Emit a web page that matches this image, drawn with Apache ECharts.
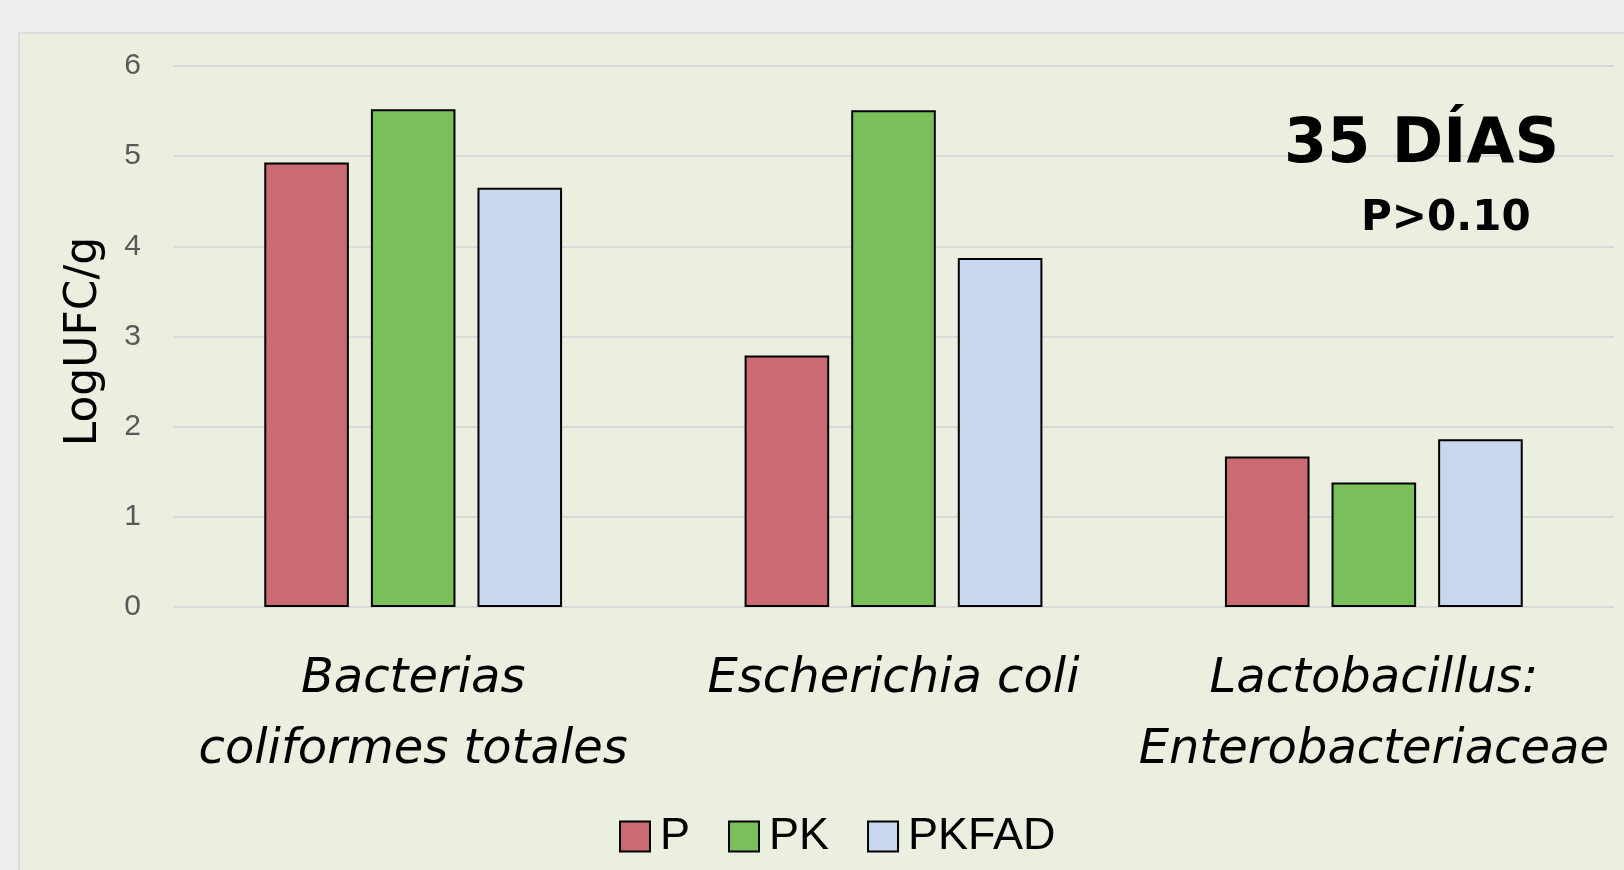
<!DOCTYPE html>
<html>
<head>
<meta charset="utf-8">
<script src="https://cdn.jsdelivr.net/npm/echarts@6/dist/echarts.min.js"></script>
<style>
  html, body { margin: 0; padding: 0; background: #eeeeee; overflow: hidden; }
  #panel { position: absolute; left: 18px; top: 32px; width: 1620px; height: 860px; background: #ebefe0; border: 2px solid #dcdcdc; }
  #chart { position: absolute; left: 0; top: 0; width: 1624px; height: 870px; }
</style>
</head>
<body>
<div id="panel"></div>
<div id="chart"></div>
<script>
const categories = ['Bacterias\ncoliformes totales', 'Escherichia coli', 'Lactobacillus:\nEnterobacteriaceae']
const seriesNames = ['P', 'PK', 'PKFAD']
const valuesP = [4.93, 2.79, 1.67]
const valuesPK = [5.52, 5.51, 1.38]
const valuesPKFAD = [4.65, 3.87, 1.86]
const yTicks = [0, 1, 2, 3, 4, 5, 6]

const colors = ['#c96b70', '#79c05a', '#c6d7ef']
const font = "'DejaVu Sans', sans-serif"
const plainFont = "'Liberation Sans', Arial, sans-serif"

const chart = echarts.init(document.getElementById('chart'))

const makeSeries = (name, data, i) => ({
  name,
  type: 'bar',
  data,
  barGap: '26%',
  barCategoryGap: '38%',
  itemStyle: { color: colors[i], borderColor: '#000', borderWidth: 2 }
})

chart.setOption({
  backgroundColor: 'transparent',
  animation: false,
  title: [
    {
      text: '35 DÍAS',
      left: 1279,
      top: 110,
      textStyle: { fontFamily: font, fontSize: 62, fontWeight: 'bold', color: '#000' }
    },
    {
      text: 'P>0.10',
      left: 1356,
      top: 193,
      textStyle: { fontFamily: font, fontSize: 42, fontWeight: 'bold', color: '#000' }
    }
  ],
  legend: {
    data: seriesNames,
    bottom: 6,
    left: 614,
    itemWidth: 30,
    itemHeight: 30,
    itemGap: 38,
    icon: 'rect',
    textStyle: { fontFamily: plainFont, fontSize: 45, color: '#000', padding: [0, 0, 0, 5] }
  },
  grid: { left: 173, right: 10, top: 66, bottom: 263 },
  xAxis: {
    type: 'category',
    data: categories,
    axisLine: { show: false },
    axisTick: { show: false },
    axisLabel: {
      margin: 37,
      fontFamily: font,
      fontSize: 48,
      fontStyle: 'italic',
      color: '#000',
      lineHeight: 71,
      interval: 0
    }
  },
  yAxis: {
    type: 'value',
    min: yTicks[0],
    max: yTicks[yTicks.length - 1],
    interval: 1,
    name: 'LogUFC/g',
    nameLocation: 'middle',
    nameGap: 66,
    nameTextStyle: { fontFamily: font, fontSize: 44, color: '#000', padding: [0, 10, 0, 0] },
    axisLine: { show: false },
    axisTick: { show: false },
    axisLabel: { fontFamily: plainFont, fontSize: 30, color: '#595959', margin: 32 },
    splitLine: { lineStyle: { color: '#d9d9d9', width: 2 } }
  },
  series: [
    makeSeries(seriesNames[0], valuesP, 0),
    makeSeries(seriesNames[1], valuesPK, 1),
    makeSeries(seriesNames[2], valuesPKFAD, 2)
  ]
})
</script>
</body>
</html>
